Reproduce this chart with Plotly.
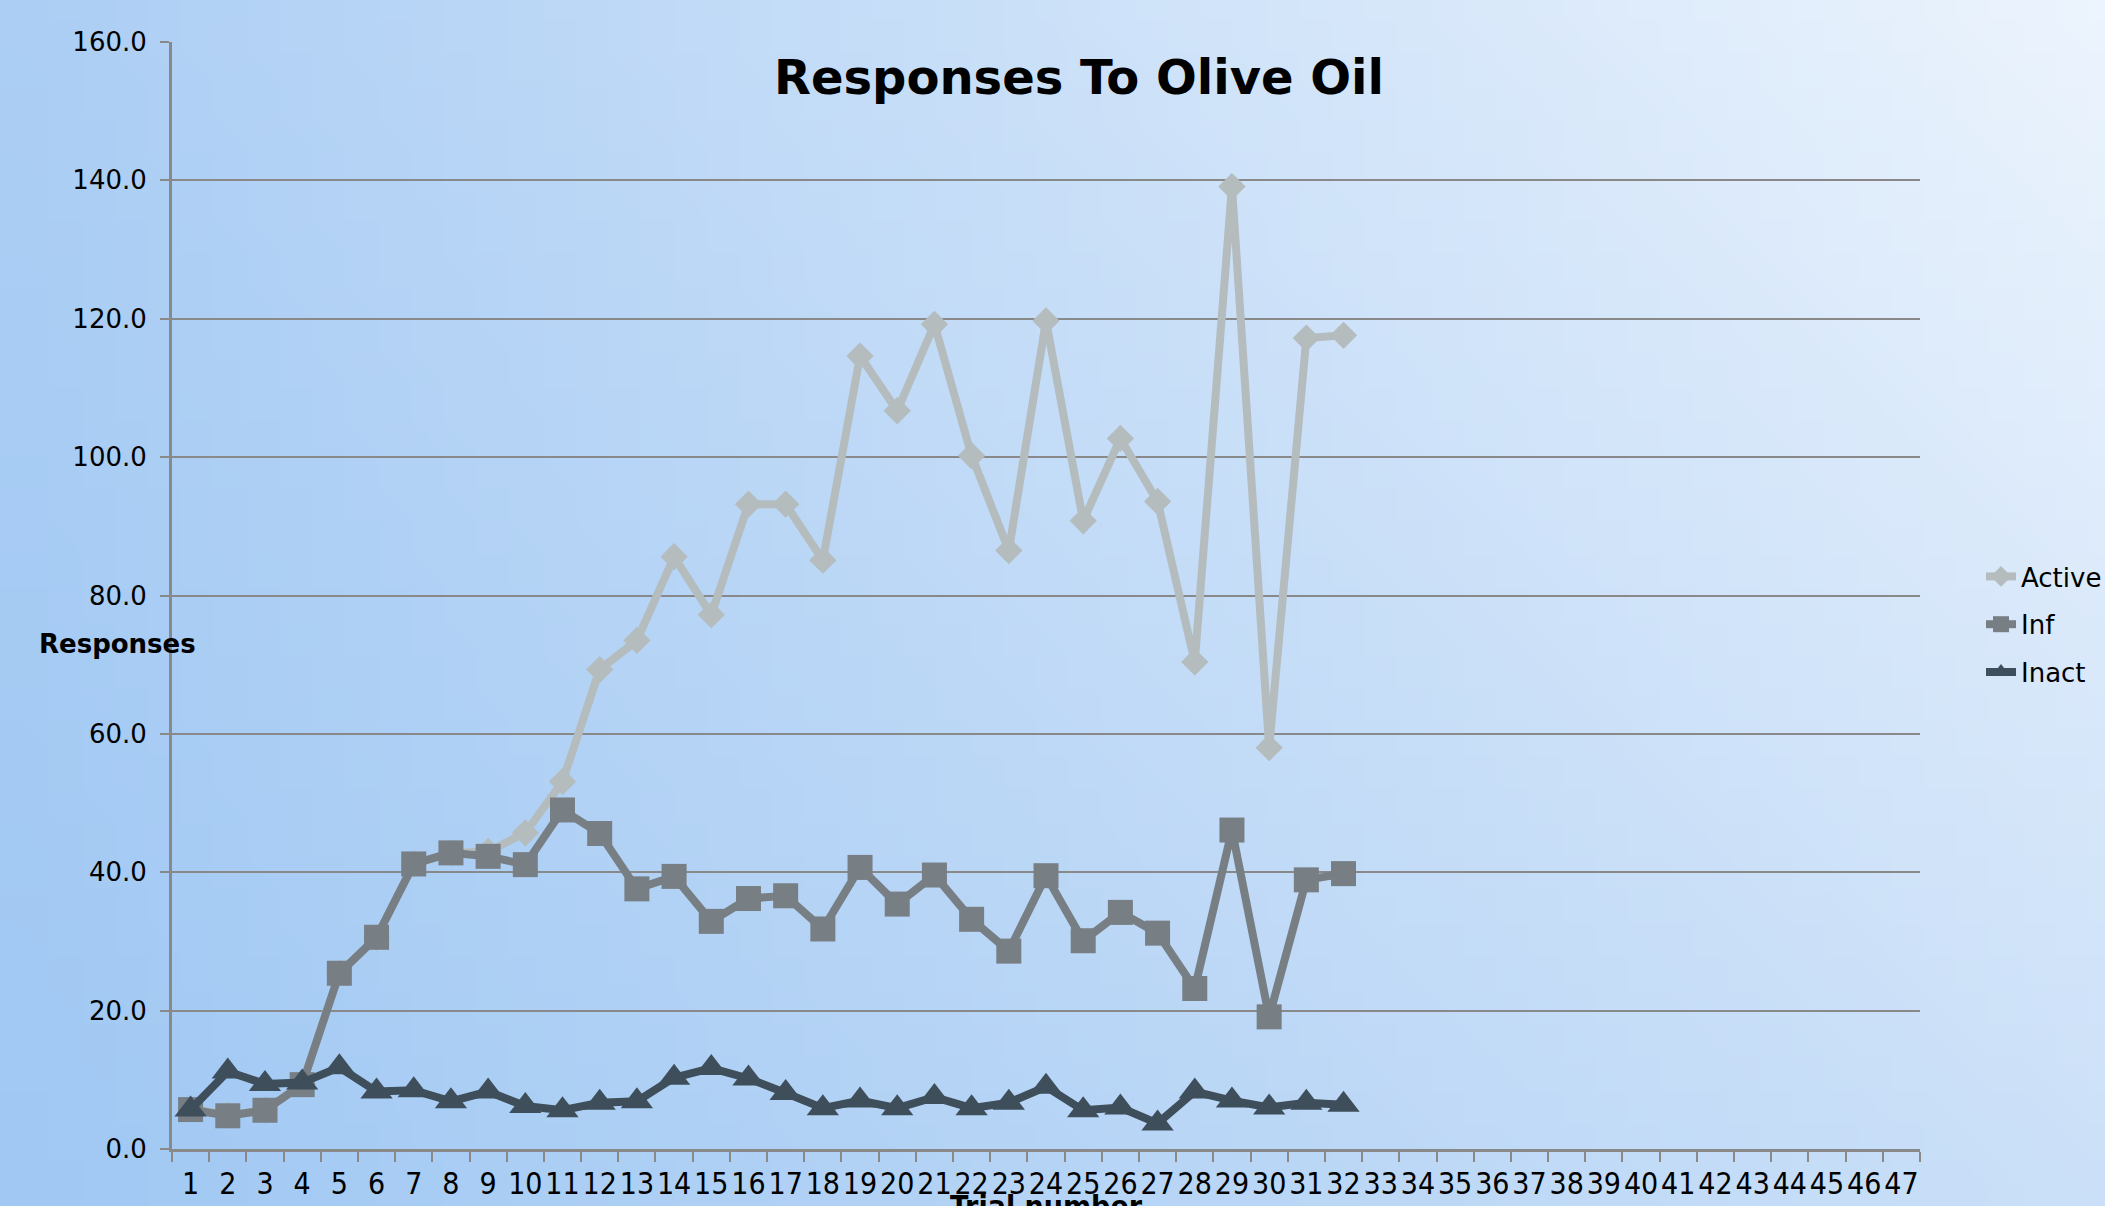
import base64, struct, zlib
import plotly.graph_objects as go

# ---------------- data ----------------
trials = list(range(1, 33))
tick_labels = [str(i) for i in range(1, 48)]
active = [5.8, 4.9, 5.6, 9.4, 25.4, 30.6, 41.2, 42.8, 43.0, 45.7, 53.1, 69.3, 73.5, 85.6, 77.2, 93.2,
          93.2, 85.1, 114.6, 106.7, 119.2, 100.2, 86.5, 119.7, 90.8, 102.7, 93.6, 70.4, 139.1, 58.0,
          117.2, 117.6]
inf = [5.7, 4.8, 5.6, 9.3, 25.4, 30.6, 41.2, 42.8, 42.3, 41.1, 49.0, 45.6, 37.6, 39.4, 32.9, 36.2,
       36.6, 31.8, 40.7, 35.4, 39.6, 33.2, 28.6, 39.5, 30.1, 34.2, 31.2, 23.2, 46.1, 19.1, 38.9, 39.8]
inact = [5.7, 11.2, 9.4, 9.6, 11.8, 8.3, 8.5, 6.9, 8.3, 6.2, 5.6, 6.7, 6.9, 10.3, 11.7, 10.2,
         8.1, 5.9, 7.0, 5.9, 7.5, 5.9, 6.7, 9.0, 5.6, 6.0, 3.7, 8.3, 7.0, 6.0, 6.7, 6.4]
y_ticks = [0, 20, 40, 60, 80, 100, 120, 140, 160]

# ---------------- background gradient (PNG built in memory) ----------------
def gradient_png(w, h, tl, tr, bl, br):
    rows = []
    for j in range(h):
        fy = j / (h - 1)
        row = bytearray([0])
        for i in range(w):
            fx = i / (w - 1)
            for c in range(3):
                top = tl[c] * (1 - fx) + tr[c] * fx
                bot = bl[c] * (1 - fx) + br[c] * fx
                row.append(int(round(top * (1 - fy) + bot * fy)))
        rows.append(bytes(row))
    raw = b"".join(rows)

    def chunk(tag, data):
        c = struct.pack(">I", len(data)) + tag + data
        return c + struct.pack(">I", zlib.crc32(tag + data) & 0xffffffff)

    png = b"\x89PNG\r\n\x1a\n" + chunk(b"IHDR", struct.pack(">IIBBBBB", w, h, 8, 2, 0, 0, 0)) \
        + chunk(b"IDAT", zlib.compress(raw, 9)) + chunk(b"IEND", b"")
    return "data:image/png;base64," + base64.b64encode(png).decode()

bg = gradient_png(64, 36, (172, 206, 244), (236, 244, 253), (160, 200, 243), (203, 224, 248))

W, H = 2105, 1206
ML, MR, MT, MB = 172, 185, 42, 57
PW, PH = W - ML - MR, H - MT - MB

GRID = "#898989"
C_ACTIVE, C_INF, C_INACT = "#b4bcbe", "#777e84", "#3e4f5b"

fig = go.Figure()
fig.add_trace(go.Scatter(x=trials, y=active, name="Active", mode="lines+markers", legendgroup="a",
                         line=dict(color=C_ACTIVE, width=8),
                         marker=dict(symbol="diamond", size=21, color=C_ACTIVE)))
fig.add_trace(go.Scatter(x=trials, y=inf, name="Inf", mode="lines+markers", legendgroup="b",
                         line=dict(color=C_INF, width=8),
                         marker=dict(symbol="square", size=25, color=C_INF)))
fig.add_trace(go.Scatter(x=trials, y=inact, name="Inact", mode="lines+markers", legendgroup="c",
                         line=dict(color=C_INACT, width=8),
                         marker=dict(symbol="triangle-up", size=28, color=C_INACT)))

fig.update_layout(
    width=W, height=H, autosize=False,
    margin=dict(l=ML, r=MR, t=MT, b=MB, pad=0, autoexpand=False),
    paper_bgcolor="#c4dcf6", plot_bgcolor="rgba(0,0,0,0)",
    font=dict(family="DejaVu Sans", color="black", size=26),
    images=[dict(source=bg, xref="paper", yref="paper",
                 x=-ML / PW, y=1 + MT / PH, sizex=W / PW, sizey=H / PH,
                 xanchor="left", yanchor="top", sizing="stretch", layer="below")],
    title=dict(text="Responses To Olive Oil", x=1079 / W, xanchor="center", xref="container",
               y=1 - 77 / H, yanchor="middle", yref="container",
               font=dict(family="DejaVu Sans", size=48, weight="bold", color="black")),
    showlegend=True,
    legend=dict(x=1981 / W, xanchor="left", xref="container",
                y=1 - 553 / H, yanchor="top", yref="container",
                bgcolor="rgba(0,0,0,0)", borderwidth=0, tracegroupgap=11,
                font=dict(family="DejaVu Sans", size=26, color="black")),
    xaxis=dict(range=[0.5, 47.5], tickmode="array", tickvals=list(range(1, 48)), ticktext=tick_labels,
               ticks="", showgrid=False, zeroline=False, showline=True, linecolor=GRID, linewidth=3,
               tickfont=dict(family="DejaVu Sans Condensed", size=30, color="black"),
               ticklabelstandoff=6, automargin=False, fixedrange=True,
               minor=dict(tickmode="array", tickvals=[i + 0.5 for i in range(0, 48)],
                          ticks="outside", ticklen=10, tickwidth=2, tickcolor=GRID, showgrid=False)),
    yaxis=dict(range=[0, 160], tickmode="array", tickvals=y_ticks, tickformat=".1f",
               showgrid=True, gridcolor=GRID, gridwidth=2, zeroline=False,
               showline=True, linecolor=GRID, linewidth=3,
               ticks="outside", ticklen=9, tickwidth=2, tickcolor=GRID,
               tickfont=dict(family="DejaVu Sans", size=26, color="black"),
               ticklabelstandoff=8, automargin=False, fixedrange=True),
    annotations=[
        dict(text="Responses", xref="paper", yref="paper", x=(117 - ML) / PW, y=(1149 - 644) / PH,
             xanchor="center", yanchor="middle", showarrow=False,
             font=dict(family="DejaVu Sans", size=26, weight="bold", color="black")),
        dict(text="Trial number", xref="paper", yref="paper", x=0.5, y=(1149 - 1206) / PH,
             xanchor="center", yanchor="middle", showarrow=False,
             font=dict(family="DejaVu Sans Condensed", size=30, weight="bold", color="black")),
    ],
)

fig.write_html("out.html", config={"displayModeBar": False})
